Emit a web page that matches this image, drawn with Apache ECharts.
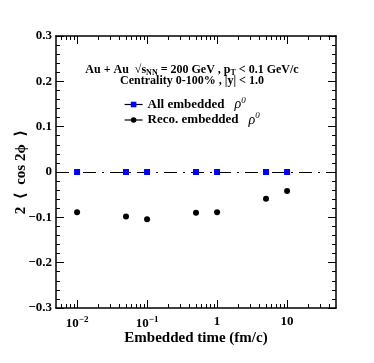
<!DOCTYPE html>
<html>
<head>
<meta charset="utf-8">
<script src="https://cdn.jsdelivr.net/npm/echarts@6/dist/echarts.min.js"></script>
<style>
  html, body { margin: 0; padding: 0; background: #fff; }
  #chart { width: 374px; height: 363px; }
</style>
</head>
<body>
<div id="chart"></div>
<script>
const times = [0.01, 0.05, 0.1, 0.5, 1, 5, 10];
const allEmbedded = [0, 0, 0, 0, 0, 0, 0];
const recoEmbedded = [-0.089, -0.098, -0.104, -0.090, -0.089, -0.059, -0.042];
const majorTicks = [0.01, 0.1, 1, 10];

// minor ticks of the log axis: 2..9 in every decade
const minorTicks = [];
[0.001, 0.01, 0.1, 1, 10].forEach((d) => {
  for (let k = 2; k <= 9; k++) {
    const v = +(k * d).toPrecision(3);
    if (v > 0.005 && v < 50) minorTicks.push(v);
  }
});

const font = "Liberation Serif";
const black = "#000";

const xLabel = (v) => {
  const p = Math.round(Math.log10(v));
  if (p >= 0) return String(Math.round(v));
  return "{b|10}{sup|\u2212" + -p + "}";
};

function logAxis(position, ticks, len, withLabels, showLine) {
  return {
    type: "log",
    logBase: 10,
    position: position,
    min: 0.005,
    max: 50,
    axisLine: { show: showLine, onZero: false, lineStyle: { color: black, width: 1.5 } },
    axisTick: { show: true, inside: true, length: len, customValues: ticks, lineStyle: { color: black, width: 1 } },
    minorTick: { show: false },
    splitLine: { show: false },
    axisLabel: withLabels
      ? {
          show: true,
          customValues: majorTicks,
          margin: 7,
          formatter: xLabel,
          color: black,
          fontFamily: font,
          fontWeight: "bold",
          fontSize: 13,
          rich: {
            b: { fontFamily: font, fontWeight: "bold", fontSize: 13, color: black },
            sup: { fontFamily: font, fontWeight: "bold", fontSize: 9, color: black, verticalAlign: "bottom", padding: [0, 0, 8, 0] },
          },
        }
      : { show: false },
  };
}

function valAxis(position, withLabels) {
  return {
    type: "value",
    position: position,
    min: -0.3,
    max: 0.3,
    interval: 0.1,
    axisLine: { show: true, onZero: false, lineStyle: { color: black, width: 1.5 } },
    axisTick: { show: true, inside: true, length: 8, lineStyle: { color: black, width: 1 } },
    minorTick: { show: true, splitNumber: 5, length: 4, lineStyle: { color: black, width: 1 } },
    splitLine: { show: false },
    axisLabel: withLabels
      ? {
          show: true,
          margin: 4,
          color: black,
          fontFamily: font,
          fontWeight: "bold",
          fontSize: 13,
          formatter: (v) => {
            const r = Math.round(v * 10) / 10;
            if (r === 0) return "0";
            return r < 0 ? "\u2212" + (-r).toFixed(1) : r.toFixed(1);
          },
        }
      : { show: false },
  };
}

const xBottom = logAxis("bottom", majorTicks, 8, true, true);
xBottom.name = "Embedded time (fm/c)";
xBottom.nameLocation = "middle";
xBottom.nameGap = 23;
xBottom.nameMoveOverlap = false;
xBottom.nameTextStyle = { fontFamily: font, fontWeight: "bold", fontSize: 15, color: black };

const yLeft = valAxis("left", true);
yLeft.name = "2  \u27E8  cos 2\u03D5  \u27E9";
yLeft.nameLocation = "middle";
yLeft.nameRotate = 90;
yLeft.nameGap = 27;
yLeft.nameMoveOverlap = false;
yLeft.nameTextStyle = { fontFamily: font + ", DejaVu Serif", fontWeight: "bold", fontSize: 15, color: black };

const legendRich = {
  t: { fontFamily: font, fontWeight: "bold", fontSize: 13, color: black },
  i: { fontFamily: font, fontStyle: "italic", fontSize: 14, color: black, padding: [0, 0, 0, 10] },
  sup: { fontFamily: font, fontStyle: "italic", fontSize: 9, color: black, verticalAlign: "bottom", padding: [0, 0, 8, 0] },
};

const chart = echarts.init(document.getElementById("chart"));
chart.setOption({
  animation: false,
  backgroundColor: "#fff",
  grid: { left: 56, right: 38, top: 36, bottom: 55 },
  xAxis: [
    xBottom,
    logAxis("bottom", minorTicks, 4, false, false),
    logAxis("top", majorTicks, 8, false, true),
    logAxis("top", minorTicks, 4, false, false),
  ],
  yAxis: [yLeft, valAxis("right", false)],
  legend: {
    orient: "vertical",
    left: 119,
    top: 91,
    itemWidth: 18,
    itemHeight: 7,
    itemGap: 0,
    lineStyle: { width: 1.2, opacity: 1, color: black },
    formatter: (name) => "{t|" + name + "}{i|\u03C1}{sup|0}",
    textStyle: { rich: legendRich },
    data: ["All embedded", "Reco. embedded"],
  },
  graphic: [
    {
      type: "text",
      x: 192,
      y: 70,
      style: {
        text: "{t|Au + Au  \u221A}{o|s}{s|NN}{t| = 200 GeV , p}{s|T}{t| < 0.1 GeV/c}",
        align: "center",
        verticalAlign: "middle",
        rich: {
          t: { fontFamily: font, fontWeight: "bold", fontSize: 12, fill: black },
          o: { fontFamily: font, fontWeight: "bold", fontSize: 12, fill: black },
          s: { fontFamily: font, fontWeight: "bold", fontSize: 8, fill: black, verticalAlign: "top", padding: [6, 0, 0, 0] },
        },
      },
    },
    {
      type: "text",
      x: 192,
      y: 81,
      style: {
        text: "Centrality 0-100% , |y| < 1.0",
        align: "center",
        verticalAlign: "middle",
        fontFamily: font,
        fontWeight: "bold",
        fontSize: 12,
        fill: black,
      },
    },
  ],
  series: [
    {
      name: "Reco. embedded",
      type: "line",
      z: 1,
      data: times.map((t, i) => [t, recoEmbedded[i]]),
      symbol: "circle",
      symbolSize: 6,
      itemStyle: { color: black },
      lineStyle: { width: 0, color: black },
      markLine: {
        silent: true,
        z: 1,
        symbol: ["none", "none"],
        label: { show: false },
        lineStyle: { color: black, width: 1.2, type: [13, 6, 2, 6] },
        data: [{ yAxis: 0 }],
      },
    },
    {
      name: "All embedded",
      type: "line",
      z: 3,
      data: times.map((t, i) => [t, allEmbedded[i]]),
      symbol: "rect",
      symbolSize: 6,
      itemStyle: { color: "#0000ff" },
      lineStyle: { width: 0, color: "#0000ff" },
    },
  ],
});
</script>
</body>
</html>
